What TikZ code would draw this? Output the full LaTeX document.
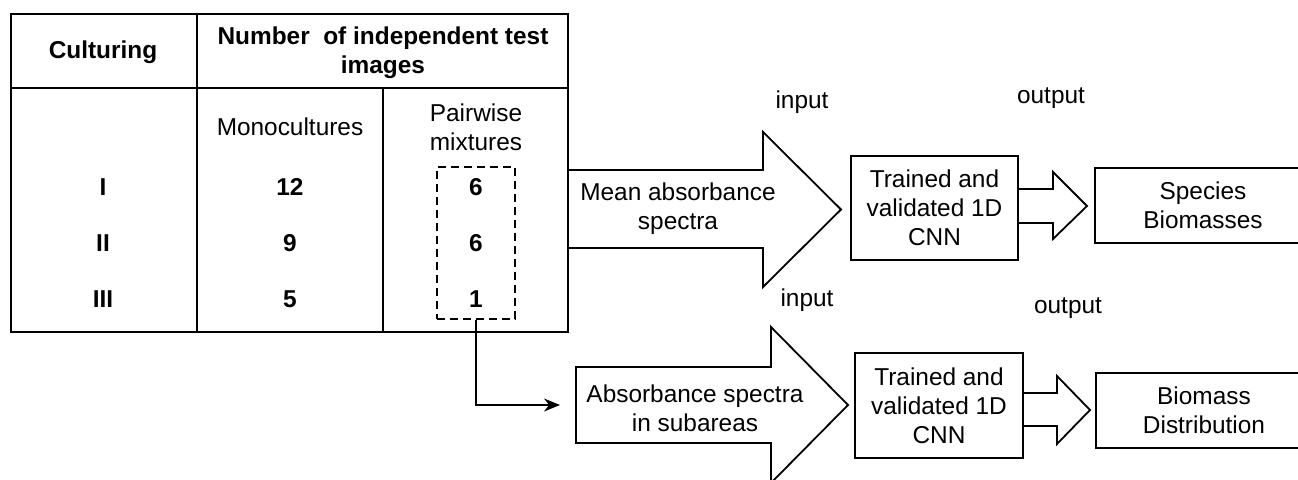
\documentclass[tikz,border=0pt]{standalone}
\usepackage{fontspec}
\setmainfont{Liberation Sans}
\usetikzlibrary{arrows.meta,positioning}
\tikzset{
  every picture/.style = {
    line width = 0.9pt,
    >={Stealth[length=8pt,width=6.5pt]},
    x = 0.5pt,
    y = -0.5pt
  }
  ,
  txt/.style = {
    font = \fontsize{12.2}{14.5}\selectfont,
    align = center,
    inner sep = 0pt
  }
  , % table heads and counts
  bold-txt/.style = {
    txt,
    font = \fontsize{12.2}{14.5}\selectfont\bfseries
  }
  ,
  box/.style = {
    rectangle,
    draw,
    txt
  }
  , % block arrows
  fat-arrow/.style = {
    draw,
    line join = miter
  }
}
\begin{document}
\begin{tikzpicture}
    \useasboundingbox (0,0) rectangle (1298,480);
    % table
    \node[draw, minimum width = 278.5pt, minimum height = 159pt] (tab) at (289.5,173) {};
    \draw (11,88) -- (568,88);
    \draw (197,14) -- (197,332);
    \draw (383,88) -- (383,332);
    \node[bold-txt] (cult) at (103,52) {Culturing};
    \node[bold-txt] (num) at (383,53) {Number\ \ of independent test\\images};
    \node[txt] (mono) at (290,127) {Monocultures};
    \node[txt] (pair) at (476,127) {Pairwise\\mixtures};
    \node[bold-txt] (r1) at (103,187) {I};
    \node[bold-txt] (r2) at (103,243) {II};
    \node[bold-txt] (r3) at (103,299) {III};
    \node[bold-txt] (m1) at (290,187) {12};
    \node[bold-txt] (m2) at (290,243) {9};
    \node[bold-txt] (m3) at (290,299) {5};
    \node[bold-txt] (p1) at (476,187) {6};
    \node[bold-txt] (p2) at (476,243) {6};
    \node[bold-txt] (p3) at (476,299) {1};
    \node[draw, dash pattern = on 4pt off 2.5pt, minimum width = 39pt, minimum height = 76pt] (sel) at (476,243) {};
    % upper branch
    \draw[fat-arrow] (568,170) -- (763,170) -- (763,132) -- (841,209.5) -- (763,287) -- (763,248) -- (568,248);
    \node[txt] (mean) at (678,209) {Mean absorbance\\spectra};
    \node[txt] (in1) at (802,102) {input};
    \node[box, minimum width = 83.5pt, minimum height = 52pt] (cnn1) at (934.5,208) {Trained and\\validated 1D\\CNN};
    \draw[fat-arrow] (1018,189) -- (1053,189) -- (1053,172) -- (1087,206) -- (1053,239) -- (1053,223) -- (1018,223);
    \node[txt] (out1) at (1051,98) {output};
    \node[box, minimum width = 108pt, minimum height = 37.5pt] (spec) at (1203,205.5) {Species\\Biomasses};
    % lower branch
    \draw[fat-arrow] (576,367) -- (771,367) -- (771,327) -- (848,405) -- (771,483) -- (771,443) -- (576,443) -- cycle;
    \node[txt] (sub) at (695,408) {Absorbance spectra\\in subareas};
    \node[txt] (in2) at (807,300) {input};
    \node[box, minimum width = 84pt, minimum height = 52.5pt] (cnn2) at (939,405.5) {Trained and\\validated 1D\\CNN};
    \draw[fat-arrow] (1023,393) -- (1057,393) -- (1057,376) -- (1090,410) -- (1057,444) -- (1057,426) -- (1023,426);
    \node[txt] (out2) at (1068,308) {output};
    \node[box, minimum width = 108pt, minimum height = 37.5pt] (dist) at (1204,410.5) {Biomass\\Distribution};
    \coordinate (tail2) at (560,405);
    \draw[->] (sel.south) |- (tail2);
\end{tikzpicture}
\end{document}
